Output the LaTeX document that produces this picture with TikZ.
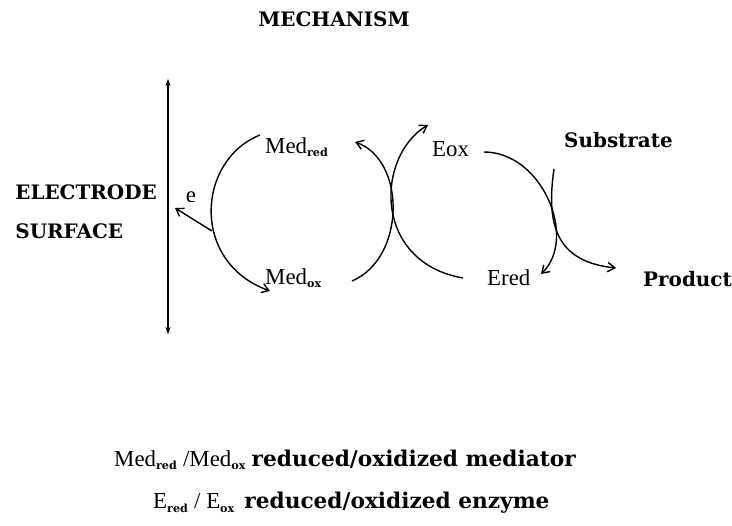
\documentclass[tikz,border=0pt]{standalone}
\usepackage{fontspec}
\setmainfont{Liberation Serif}
\newfontfamily\slab{DejaVu Serif}
\usetikzlibrary{arrows.meta}

\newcommand{\chemsub}[1]{\textsubscript{\slab\bfseries\fontsize{9.5}{10}\selectfont #1}}

\begin{document}
\begin{tikzpicture}[x=0.03cm, y=-0.03cm,
                    every node/.style={inner sep=0pt},
                    boldlabel/.style={font=\slab\bfseries\fontsize{17}{20}\selectfont},
                    species/.style={font=\fontsize{19.5}{22}\selectfont},
                    cycle/.style={line width=1.2pt, -{Straight Barb[length=6pt,width=8pt]}}]

  \useasboundingbox (0,0) rectangle (732,525);

  %% titel en elektrode
  \node[boldlabel] (mech) at (334,19) {MECHANISM};
  \coordinate (etop) at (168,79);
  \coordinate (ebot) at (168,334);
  \draw[line width=1.2pt, {Stealth[length=6pt]}-{Stealth[length=6pt]}] (etop) -- (ebot);
  \node[boldlabel, anchor=east] (electrode) at (157,192) {ELECTRODE};
  \node[boldlabel, anchor=west] (surface) at (electrode.west |- 0,231) {SURFACE};

  %% mediator en enzym
  \node[species, anchor=west] (medred) at (265,147) {Med\chemsub{red}};
  \node[species, anchor=west] (medox) at (265,278) {Med\chemsub{ox}};
  \node[species, anchor=west] (eox) at (432,149) {Eox};
  \node[species, anchor=west] (ered) at (487,278) {Ered};
  \node[boldlabel, anchor=west] (substrate) at (564,140) {Substrate};
  \node[boldlabel, anchor=west] (product) at (643,279) {Product};

  %% bogen
  \coordinate (a0) at (260,135);
  \coordinate (a1) at (270,291);
  \draw[cycle] (a0) .. controls (197,160) and (190,262) .. (a1);
  \coordinate (b0) at (352,281);
  \coordinate (b1) at (355,142);
  \draw[cycle] (b0) .. controls (406,258) and (406,160) .. (b1);
  \coordinate (c0) at (463,278);
  \coordinate (c1) at (428,125);
  \draw[cycle] (c0) .. controls (372,262) and (376,156) .. (c1);
  \coordinate (d0) at (484,152);
  \coordinate (d1) at (541,274);
  \draw[cycle] (d0) .. controls (542,152) and (578,238) .. (d1);
  \coordinate (s0) at (554,169);
  \coordinate (s1) at (616,268);
  \draw[cycle] (s0) .. controls (545,230) and (560,262) .. (s1);

  %% elektron naar de elektrode
  \coordinate (eout) at (212,231);
  \coordinate (ein) at (175,208);
  \draw[cycle] (eout) -- (ein);
  \node[species] (elabel) at (191,197) {e};

  %% legenda
  \node[species, anchor=west] (legmed) at (114,460)
    {Med\chemsub{red} /Med\chemsub{ox} {\slab\bfseries\fontsize{18.5}{21}\selectfont reduced/oxidized mediator}};
  \node[species, anchor=west] (legenz) at (153,503)
    {E\chemsub{red} / E\chemsub{ox}\, {\slab\bfseries\fontsize{18.5}{21}\selectfont reduced/oxidized enzyme}};

\end{tikzpicture}
\end{document}
